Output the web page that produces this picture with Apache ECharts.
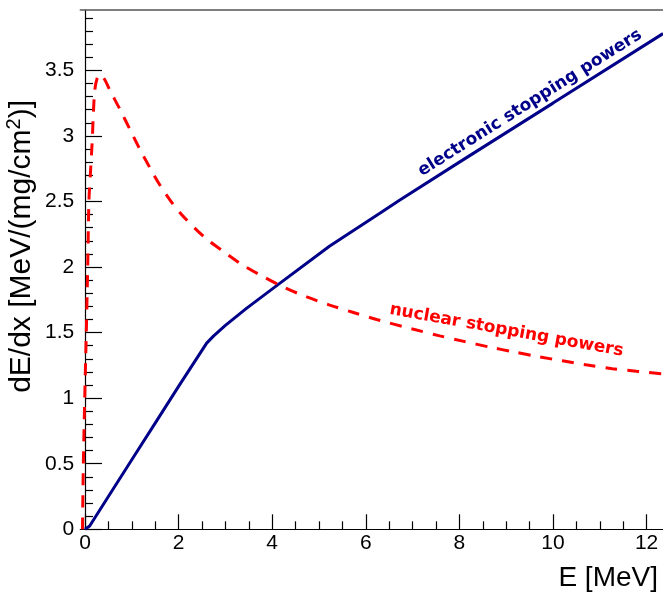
<!DOCTYPE html>
<html>
<head>
<meta charset="utf-8">
<script src="https://cdn.jsdelivr.net/npm/echarts@6/dist/echarts.min.js"></script>
<style>html,body{margin:0;padding:0;background:#fff}#c{width:663px;height:592px}</style>
</head>
<body>
<div id="c"></div>
<script>
// Electronic stopping power (solid navy)
var elecE = [0, 0.1, 0.5, 1, 1.5, 2, 2.6, 2.75, 3.0, 3.45, 4.16, 5.23, 6.3, 6.72, 8, 10, 12.35];
var elecS = [0, 0.025, 0.25, 0.53, 0.81, 1.09, 1.42, 1.475, 1.555, 1.685, 1.875, 2.16, 2.41, 2.51, 2.80, 3.25, 3.78];
// Nuclear stopping power (dashed red)
var nuclE = [-0.053, -0.036, -0.006, 0.028, 0.058, 0.085, 0.12, 0.156, 0.18, 0.21, 0.26, 0.32, 0.42, 0.53, 0.75, 0.96, 1.17, 1.39, 1.60, 1.88, 2.13, 2.56, 2.99, 3.37, 3.80, 4.27, 4.74, 5.23, 5.72, 6.23, 7.0, 7.58, 8.07, 8.64, 9.13, 9.71, 10.2, 10.7, 11.27, 11.78, 12.35];
var nuclS = [0, 0.476, 0.99, 1.50, 2.00, 2.51, 2.74, 2.97, 3.18, 3.35, 3.44, 3.47, 3.43, 3.35, 3.20, 3.05, 2.90, 2.755, 2.625, 2.48, 2.375, 2.225, 2.11, 2.015, 1.928, 1.842, 1.772, 1.71, 1.655, 1.60, 1.527, 1.475, 1.435, 1.39, 1.355, 1.315, 1.285, 1.255, 1.225, 1.205, 1.185];
// Tick values
var xMajorTicks = [0, 2, 4, 6, 8, 10, 12];
var xMinorTicks = [0.5, 1, 1.5, 2.5, 3, 3.5, 4.5, 5, 5.5, 6.5, 7, 7.5, 8.5, 9, 9.5, 10.5, 11, 11.5, 12.5];
var yMajorTicks = [0, 0.5, 1, 1.5, 2, 2.5, 3, 3.5];
var yMinorTicks = [0.1, 0.2, 0.3, 0.4, 0.6, 0.7, 0.8, 0.9, 1.1, 1.2, 1.3, 1.4, 1.6, 1.7, 1.8, 1.9, 2.1, 2.2, 2.3, 2.4, 2.6, 2.7, 2.8, 2.9, 3.1, 3.2, 3.3, 3.4, 3.6, 3.7, 3.8, 3.9];

function zip(a, b) { return a.map(function (v, i) { return [v, b[i]]; }); }

var X_MIN = -0.1, X_MAX = 12.35, Y_MIN = 0, Y_MAX = 3.96;
var font = '"Liberation Sans", Arial, Helvetica, sans-serif';

var chart = echarts.init(document.getElementById('c'), null, {renderer: 'canvas'});
chart.setOption({
  animation: false,
  backgroundColor: '#ffffff',
  grid: {left: 80.3, top: 10, right: -0.7, bottom: 62.7, containLabel: false},
  xAxis: [
    {
      type: 'value', position: 'bottom', min: X_MIN, max: X_MAX,
      axisLine: {show: true, lineStyle: {color: '#000', width: 1.2}},
      axisTick: {show: true, inside: true, length: 15, customValues: xMajorTicks, lineStyle: {color: '#000', width: 1.2}},
      axisLabel: {show: true, customValues: xMajorTicks, margin: 3, fontSize: 21, color: '#000', fontFamily: font},
      splitLine: {show: false}
    },
    {
      type: 'value', position: 'bottom', min: X_MIN, max: X_MAX,
      axisLine: {show: false},
      axisTick: {show: true, inside: true, length: 8, customValues: xMinorTicks, lineStyle: {color: '#000', width: 1.2}},
      axisLabel: {show: false},
      splitLine: {show: false}
    },
    {
      type: 'value', position: 'top', min: X_MIN, max: X_MAX,
      axisLine: {show: true, lineStyle: {color: '#555', width: 1.5}},
      axisTick: {show: false}, axisLabel: {show: false}, splitLine: {show: false}
    }
  ],
  yAxis: [
    {
      type: 'value', position: 'left', min: Y_MIN, max: Y_MAX,
      axisLine: {show: true, lineStyle: {color: '#000', width: 1.2}},
      axisTick: {show: true, inside: true, length: 17, customValues: yMajorTicks, lineStyle: {color: '#000', width: 1.2}},
      axisLabel: {show: true, customValues: yMajorTicks, margin: 6, fontSize: 21, color: '#000', fontFamily: font},
      splitLine: {show: false}
    },
    {
      type: 'value', position: 'left', min: Y_MIN, max: Y_MAX,
      axisLine: {show: false},
      axisTick: {show: true, inside: true, length: 8, customValues: yMinorTicks, lineStyle: {color: '#000', width: 1.2}},
      axisLabel: {show: false},
      splitLine: {show: false}
    }
  ],
  series: [
    {
      type: 'line', name: 'electronic', xAxisIndex: 0, yAxisIndex: 0,
      data: zip(elecE, elecS), showSymbol: false, smooth: false, clip: true,
      lineStyle: {color: '#000088', width: 3}
    },
    {
      type: 'line', name: 'nuclear', xAxisIndex: 0, yAxisIndex: 0,
      data: zip(nuclE, nuclS), showSymbol: false, smooth: 0.3, clip: true,
      lineStyle: {color: '#ff0000', width: 3, type: [12, 10]}
    }
  ],
  graphic: [
    {
      type: 'text', x: 658, y: 578,
      style: {text: 'E [MeV]', font: '28px ' + font, fill: '#000', textAlign: 'right', textVerticalAlign: 'middle'}
    },
    {
      type: 'text', x: 22, y: 100, rotation: Math.PI / 2,
      style: {
        text: '{a|dE/dx [MeV/(mg/cm}{s|2}{a|)]}',
        textAlign: 'right', textVerticalAlign: 'middle',
        rich: {
          a: {fontSize: 30, fontFamily: font, fill: '#000', color: '#000', lineHeight: 36, verticalAlign: 'middle'},
          s: {fontSize: 20, fontFamily: font, fill: '#000', color: '#000', lineHeight: 36, verticalAlign: 'top'}
        }
      }
    },
    {
      type: 'text', x: 530, y: 103, rotation: 0.562,
      style: {text: 'electronic stopping powers', font: 'bold 17px "DejaVu Sans"', fill: '#000088', textAlign: 'center', textVerticalAlign: 'middle'}
    },
    {
      type: 'text', x: 506.5, y: 330.5, rotation: -0.178,
      style: {text: 'nuclear stopping powers', font: 'bold 17px "DejaVu Sans"', fill: '#ff0000', textAlign: 'center', textVerticalAlign: 'middle'}
    }
  ]
});
</script>
</body>
</html>
